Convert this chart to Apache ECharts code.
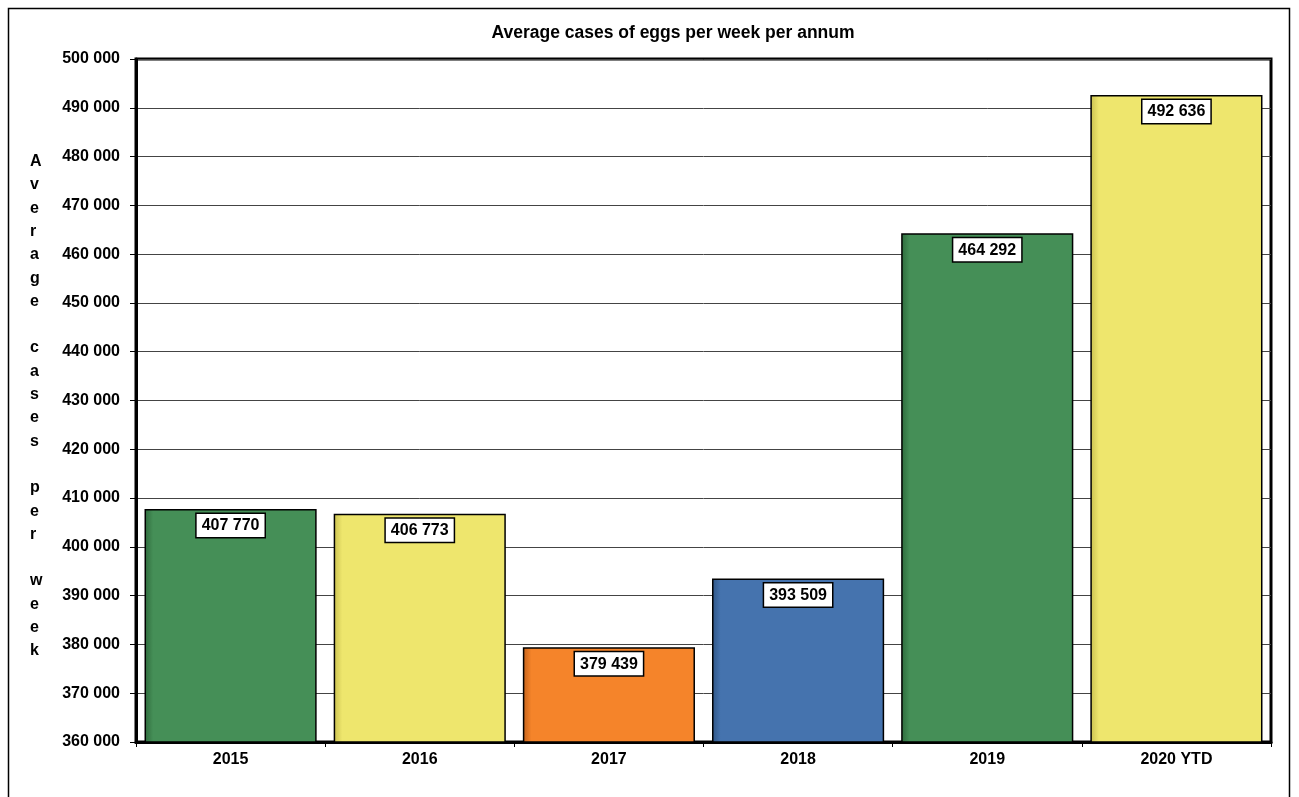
<!DOCTYPE html>
<html>
<head>
<meta charset="utf-8">
<title>Average cases of eggs per week per annum</title>
<script src="https://cdn.jsdelivr.net/npm/echarts@6/dist/echarts.min.js"></script>
<style>
  html, body { margin: 0; padding: 0; background: #fff; }
  #chart { width: 1299px; height: 797px; }
</style>
</head>
<body>
<div id="chart"></div>
<script>
// Yearly averages (cases of eggs per week)
const years = ['2015', '2016', '2017', '2018', '2019', '2020 YTD'];
const avgCases = [407770, 406773, 379439, 393509, 464292, 492636];
const barColors = ['#458F57', '#EEE66D', '#F5842A', '#4573AE', '#458F57', '#EEE66D'];
const barEdgeColors = ['#2E6A3C', '#C9C050', '#C2611A', '#2F5585', '#2E6A3C', '#C9C050'];

const yMin = 360000, yMax = 500000, yStep = 10000;
const axisName = 'Average cases per week';

const fmt = v => String(Math.round(v)).replace(/\B(?=(\d{3})+(?!\d))/g, ' ');
const FONT = '"Liberation Sans", Arial, sans-serif';

const chart = echarts.init(document.getElementById('chart'), null, { renderer: 'canvas' });

// soft darker edge along each bar's left side
const barFill = i => ({
  type: 'linear', x: 0, y: 0, x2: 1, y2: 0,
  colorStops: [
    { offset: 0, color: barEdgeColors[i] },
    { offset: 0.05, color: barColors[i] },
    { offset: 1, color: barColors[i] }
  ]
});

chart.setOption({
  backgroundColor: '#fff',
  animation: false,
  title: {
    text: 'Average cases of eggs per week per annum',
    left: 668, top: 19, textAlign: 'center',
    textStyle: { fontFamily: FONT, fontWeight: 'bold', fontSize: 17.5, color: '#000' }
  },
  grid: {
    left: 136, top: 59, right: 28, bottom: 55,
    show: true, borderColor: '#000', borderWidth: 3, backgroundColor: '#fff'
  },
  xAxis: {
    type: 'category',
    data: years,
    axisLine: { show: true, lineStyle: { color: '#000', width: 3 } },
    axisTick: { show: true, length: 5, lineStyle: { color: '#000', width: 1 } },
    axisLabel: { fontFamily: FONT, fontWeight: 'bold', fontSize: 16, color: '#000', margin: 10 }
  },
  yAxis: {
    type: 'value',
    min: yMin, max: yMax, interval: yStep,
    axisLine: { show: true, lineStyle: { color: '#000', width: 3 } },
    axisTick: { show: true, length: 6, lineStyle: { color: '#000', width: 1 } },
    axisLabel: { fontFamily: FONT, fontWeight: 'bold', fontSize: 16, color: '#000', margin: 16, formatter: fmt },
    splitLine: { show: true, lineStyle: { color: '#444', width: 1 } }
  },
  graphic: [
    {
      type: 'rect', silent: true, z: -1,
      shape: { x: 8.5, y: 8.5, width: 1281, height: 820 },
      style: { fill: null, stroke: '#000', lineWidth: 1.5 }
    },
    {
      type: 'text', left: 30, top: 150, silent: true,
      style: {
        text: axisName.split('').join('\n'),
        fontFamily: FONT, fontWeight: 'bold', fontSize: 16,
        lineHeight: 23.3, fill: '#000', align: 'center'
      }
    }
  ],
  series: [{
    type: 'bar',
    barCategoryGap: '9%',
    data: avgCases.map((v, i) => ({
      value: v,
      itemStyle: { color: barFill(i), borderColor: '#000', borderWidth: 1.5 }
    })),
    label: {
      show: true, position: 'insideTop', distance: 5,
      formatter: p => fmt(p.value),
      fontFamily: FONT, fontWeight: 'bold', fontSize: 16, color: '#000',
      backgroundColor: '#fff', borderColor: '#000', borderWidth: 1.5,
      padding: [4, 5, 3, 5]
    }
  }]
});
</script>
</body>
</html>
